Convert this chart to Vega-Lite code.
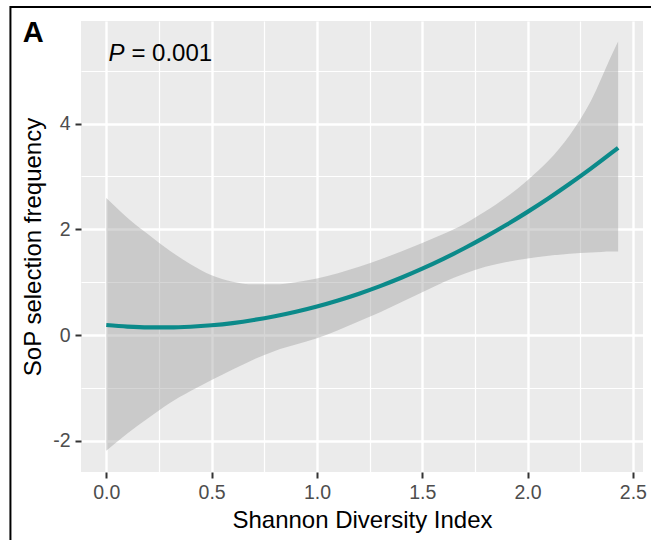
{
  "$schema": "https://vega.github.io/schema/vega-lite/v6.json",
  "width": 562,
  "height": 451,
  "autosize": {"type": "none"},
  "padding": {"left": 81, "top": 21, "right": 8, "bottom": 68},
  "background": "white",
  "config": {
    "view": {"fill": "#EBEBEB", "stroke": null},
    "font": "Liberation Sans"
  },
  "data": {
    "values": [
      {"x": 0.0, "fit": 0.19, "lower": -2.19, "upper": 2.59},
      {"x": 0.1, "fit": 0.16, "lower": -1.86, "upper": 2.22},
      {"x": 0.2, "fit": 0.145, "lower": -1.57, "upper": 1.9},
      {"x": 0.3, "fit": 0.144, "lower": -1.29, "upper": 1.6},
      {"x": 0.4, "fit": 0.157, "lower": -1.06, "upper": 1.34},
      {"x": 0.5, "fit": 0.185, "lower": -0.85, "upper": 1.13},
      {"x": 0.6, "fit": 0.227, "lower": -0.65, "upper": 1.01},
      {"x": 0.7, "fit": 0.284, "lower": -0.46, "upper": 0.96},
      {"x": 0.8, "fit": 0.355, "lower": -0.3, "upper": 0.96},
      {"x": 0.9, "fit": 0.44, "lower": -0.18, "upper": 1.0},
      {"x": 1.0, "fit": 0.54, "lower": -0.06, "upper": 1.07},
      {"x": 1.1, "fit": 0.654, "lower": 0.09, "upper": 1.17},
      {"x": 1.2, "fit": 0.783, "lower": 0.26, "upper": 1.29},
      {"x": 1.3, "fit": 0.926, "lower": 0.43, "upper": 1.43},
      {"x": 1.4, "fit": 1.083, "lower": 0.62, "upper": 1.58},
      {"x": 1.5, "fit": 1.255, "lower": 0.81, "upper": 1.74},
      {"x": 1.6, "fit": 1.441, "lower": 1.0, "upper": 1.91},
      {"x": 1.7, "fit": 1.642, "lower": 1.16, "upper": 2.1},
      {"x": 1.8, "fit": 1.857, "lower": 1.29, "upper": 2.34},
      {"x": 1.9, "fit": 2.086, "lower": 1.38, "upper": 2.61},
      {"x": 2.0, "fit": 2.33, "lower": 1.45, "upper": 2.93},
      {"x": 2.1, "fit": 2.588, "lower": 1.5, "upper": 3.3},
      {"x": 2.2, "fit": 2.861, "lower": 1.54, "upper": 3.78},
      {"x": 2.3, "fit": 3.148, "lower": 1.56, "upper": 4.42},
      {"x": 2.4, "fit": 3.449, "lower": 1.58, "upper": 5.3},
      {"x": 2.43, "fit": 3.542, "lower": 1.58, "upper": 5.55}
    ]
  },
  "layer": [
    {
      "mark": {"type": "area", "color": "#999999", "opacity": 0.4, "interpolate": "monotone"},
      "encoding": {
        "x": {
          "field": "x",
          "type": "quantitative",
          "scale": {"domain": [-0.12, 2.548], "nice": false, "zero": false},
          "axis": {
            "title": "Shannon Diversity Index",
            "values": [0, 0.25, 0.5, 0.75, 1, 1.25, 1.5, 1.75, 2, 2.25, 2.5],
            "labelExpr": "datum.value * 2 % 1 == 0 ? format(datum.value, '.1f') : ''",
            "domain": false,
            "grid": true,
            "gridColor": "white",
            "gridWidth": {"condition": {"test": "datum.value * 2 % 1 != 0", "value": 1.2}, "value": 2.4},
            "tickColor": "#333333",
            "tickWidth": 2,
            "tickSize": 6,
            "tickOpacity": {"condition": {"test": "datum.value * 2 % 1 != 0", "value": 0}, "value": 1},
            "labelFontSize": 19.5,
            "labelColor": "#4D4D4D",
            "labelPadding": 5,
            "labelFlush": false,
            "labelOverlap": false,
            "titleFontSize": 24,
            "titleColor": "black",
            "titleFontWeight": "normal",
            "titlePadding": 7
          }
        },
        "y": {
          "field": "upper",
          "type": "quantitative",
          "scale": {"domain": [-2.59, 5.94], "nice": false, "zero": false},
          "axis": {
            "title": "SoP selection frequency",
            "values": [-2, -1, 0, 1, 2, 3, 4, 5],
            "labelExpr": "datum.value % 2 == 0 ? '' + datum.value : ''",
            "domain": false,
            "grid": true,
            "gridColor": "white",
            "gridWidth": {"condition": {"test": "datum.value % 2 != 0", "value": 1.2}, "value": 2.4},
            "tickColor": "#333333",
            "tickWidth": 2,
            "tickSize": 6,
            "tickOpacity": {"condition": {"test": "datum.value % 2 != 0", "value": 0}, "value": 1},
            "labelFontSize": 19.5,
            "labelColor": "#4D4D4D",
            "labelPadding": 5,
            "labelFlush": false,
            "labelOverlap": false,
            "titleFontSize": 24,
            "titleColor": "black",
            "titleFontWeight": "normal",
            "titlePadding": 7
          }
        },
        "y2": {"field": "lower"}
      }
    },
    {
      "mark": {"type": "line", "color": "#0B8A8A", "strokeWidth": 4.2, "interpolate": "monotone"},
      "encoding": {
        "x": {"field": "x", "type": "quantitative"},
        "y": {"field": "fit", "type": "quantitative"}
      }
    },
    {
      "data": {"values": [{"label": "P"}]},
      "mark": {"type": "text", "fontStyle": "italic", "fontSize": 24, "align": "left", "baseline": "alphabetic", "color": "black"},
      "encoding": {
        "x": {"datum": 0.01, "type": "quantitative"},
        "y": {"datum": 5.19, "type": "quantitative"},
        "text": {"field": "label"}
      }
    },
    {
      "data": {"values": [{"label": "= 0.001"}]},
      "mark": {"type": "text", "fontSize": 24, "align": "left", "baseline": "alphabetic", "color": "black", "dx": 23},
      "encoding": {
        "x": {"datum": 0.01, "type": "quantitative"},
        "y": {"datum": 5.19, "type": "quantitative"},
        "text": {"field": "label"}
      }
    },
    {
      "data": {"values": [{"label": "A"}]},
      "mark": {"type": "text", "fontSize": 29, "fontWeight": "bold", "align": "left", "baseline": "alphabetic", "color": "black"},
      "encoding": {
        "x": {"datum": -0.397, "type": "quantitative"},
        "y": {"datum": 5.543, "type": "quantitative"},
        "text": {"field": "label"}
      }
    },
    {
      "data": {"values": [{}]},
      "mark": {"type": "rect", "fillOpacity": 0, "stroke": "black", "strokeWidth": 2},
      "encoding": {
        "x": {"datum": -0.455, "type": "quantitative"},
        "x2": {"datum": 3.2},
        "y": {"datum": 6.205, "type": "quantitative"},
        "y2": {"datum": -4.5}
      }
    }
  ]
}
